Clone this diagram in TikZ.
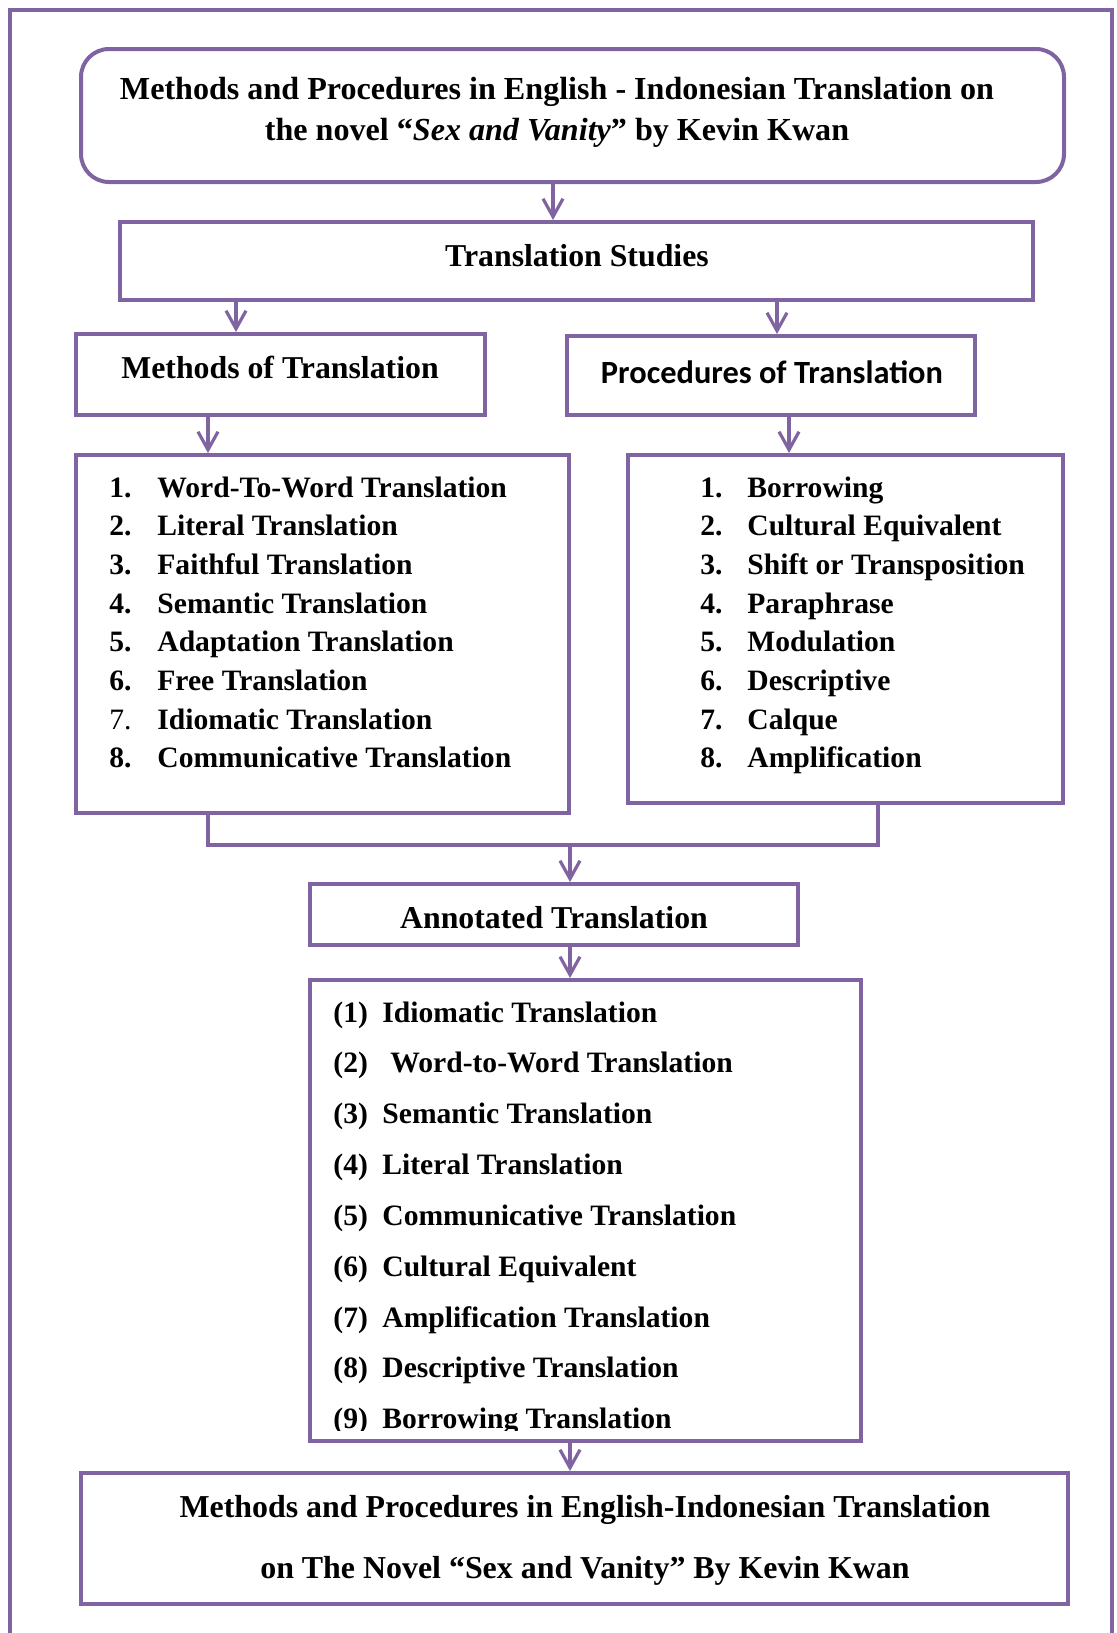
\documentclass[tikz,border=0pt]{standalone}
\usepackage{fontspec}
\setmainfont{Liberation Serif}
\newfontfamily\calib{Carlito}
\usetikzlibrary{arrows.meta,fit}
\definecolor{pur}{HTML}{8064A2}
\begin{document}
\begin{tikzpicture}[x=0.5pt,y=-0.5pt,
 box/.style={draw=pur, line width=2pt, inner sep=0pt, fill=white},
 link/.style={draw=pur, line width=1.8pt},
 arr/.style={draw=pur, line width=1.6pt, -{Straight Barb[length=9pt,width=10pt,line width=1.6pt]}},
 head/.style={font=\fontsize{15.9}{20.25}\selectfont\bfseries, inner sep=0pt, anchor=center, align=center},
 item/.style={font=\fontsize{14.8}{17}\selectfont\bfseries, inner sep=0pt, anchor=base west},
 num/.style={font=\fontsize{14.8}{17}\selectfont\bfseries, inner sep=0pt, anchor=base west},
]
\useasboundingbox (0,0) rectangle (1116,1633);
% outer frame
\draw[pur, line width=1.7pt] (10,1650) -- (10,10) -- (1112,10) -- (1112,1650);

% boxes
\node[box, rounded corners=14pt, fit={(81,49) (1064,182)}] (top) {};
\node[box, fit={(120,222) (1033,300)}] (ts) {};
\node[box, fit={(76,334) (485,415)}] (meth) {};
\node[box, fit={(567,336) (975,415)}] (proc) {};
\node[box, fit={(76,455) (569,813)}] (ll) {};
\node[box, fit={(628,455) (1063,803)}] (rl) {};
\node[box, fit={(310,884) (798,945)}] (ann) {};
\node[box, fit={(310,980) (861,1441)}] (al) {};
\node[box, fit={(81,1473) (1068,1604)}] (fin) {};

% texts
\node[head, font=\fontsize{16.05}{20.6}\selectfont\bfseries] (toptext) at (557,112) {Methods and Procedures in English - Indonesian Translation on\\the novel \textquotedblleft\textit{Sex and Vanity}\textquotedblright{} by Kevin Kwan};
\node[head] (tstext) at (577,256) {Translation Studies};
\node[head] (methtext) at (280,367) {Methods of Translation};
\node[head, font=\calib\fontsize{16.2}{20}\selectfont\bfseries] (proctext) at (772,372) {Procedures of Translation};
\node[head] (anntext) at (554,918) {Annotated Translation};
\node[head, font=\fontsize{15.95}{30.5}\selectfont\bfseries] (fintext) at (585,1540) {Methods and Procedures in English-Indonesian Translation\\on The Novel \textquotedblleft Sex and Vanity\textquotedblright{} By Kevin Kwan};

% left list
\foreach \t [count=\i] in {Word-To-Word Translation, Literal Translation, Faithful Translation, Semantic Translation, Adaptation Translation, Free Translation, Idiomatic Translation, Communicative Translation}{
  \ifnum\i=7
    \node[num, font=\fontsize{14.8}{17}\selectfont] (ln\i) at (109,{497+(\i-1)*38.7}) {\i.};
  \else
    \node[num] (ln\i) at (109,{497+(\i-1)*38.7}) {\i.};
  \fi
  \node[item] (lt\i) at (157,{497+(\i-1)*38.7}) {\t};
}
% right list
\foreach \t [count=\i] in {Borrowing, Cultural Equivalent, Shift or Transposition, Paraphrase, Modulation, Descriptive, Calque, Amplification}{
  \node[num] (rn\i) at (700,{497+(\i-1)*38.7}) {\i.};
  \node[item] (rt\i) at (747,{497+(\i-1)*38.7}) {\t};
}
% annotated list
\begin{scope}
\clip (312,982) rectangle (859,1430);
\foreach \t/\xx [count=\i] in {Idiomatic Translation/382, Word-to-Word Translation/390, Semantic Translation/382, Literal Translation/382, Communicative Translation/382, Cultural Equivalent/382, Amplification Translation/382, Descriptive Translation/382, Borrowing Translation/382}{
  \node[num] (an\i) at (333,{1022+(\i-1)*50.85}) {(\i)};
  \node[item] (at\i) at (\xx,{1022+(\i-1)*50.85}) {\t};
}
\end{scope}

% connectors
\coordinate (c1) at (553,0);
\coordinate (c2) at (236,0);
\coordinate (c3) at (777,0);
\coordinate (c4) at (208,0);
\coordinate (c5) at (789,0);
\coordinate (jl) at (208,845);
\coordinate (jr) at (878,845);
\coordinate (jm) at (570,845);
\draw[arr] (top.south -| c1) -- (ts.north -| c1);
\draw[arr] (ts.south -| c2) -- (meth.north -| c2);
\draw[arr] (ts.south -| c3) -- (proc.north -| c3);
\draw[arr] (meth.south -| c4) -- (ll.north -| c4);
\draw[arr] (proc.south -| c5) -- (rl.north -| c5);
\draw[link] (ll.south -| jl) -- (jl) -- (jr) -- (rl.south -| jr);
\draw[arr] (jm) -- (ann.north -| jm);
\draw[arr] (ann.south -| jm) -- (al.north -| jm);
\draw[arr] (al.south -| jm) -- (fin.north -| jm);
\end{tikzpicture}
\end{document}
